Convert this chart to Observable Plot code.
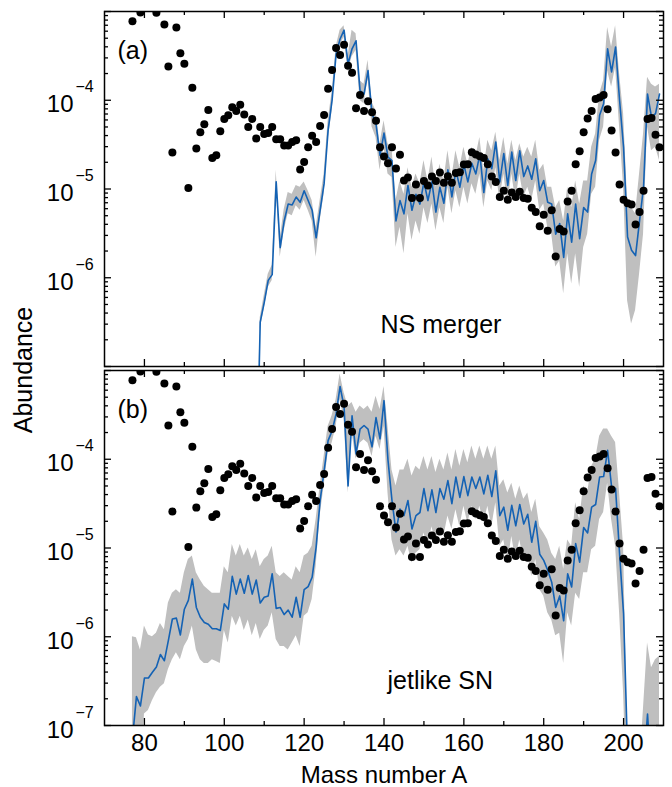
<!DOCTYPE html>
<html>
<head>
<meta charset="utf-8">
<script src="https://cdn.jsdelivr.net/npm/d3@7"></script>
<script src="https://cdn.jsdelivr.net/npm/@observablehq/plot@0.6"></script>
<style>
  html, body { margin: 0; padding: 0; background: #fff; }
  #wrap { position: relative; width: 672px; height: 787px; overflow: hidden; }
  #wrap svg { display: block; }
  #ylab { position: absolute; left: 23px; top: 370px; transform: translate(-50%, -50%) rotate(-90deg);
          font: 25px 'Liberation Sans', Arial, Helvetica, sans-serif; line-height: 1; white-space: nowrap; color: #000; }
</style>
</head>
<body>
<div id="wrap"><div id="ylab">Abundance</div></div>
<script>
// ---------- data (log10 abundance) ----------
// solar r-process abundances (black dots), same in both panels
const dotMass = [77,79,83,85,86,87,88,89,90,91,92,93,94,95,96,97,98,99,100,101,102,103,104,105,106,107,108,109,110,111,112,113,114,115,116,117,118,119,120,121,122,123,124,125,126,127,128,129,130,131,132,133,134,135,136,137,138,139,140,141,142,143,144,145,146,147,148,149,150,151,152,153,154,155,156,157,158,159,160,161,162,163,164,165,166,167,168,169,170,171,172,173,174,175,176,177,178,179,180,181,182,183,184,185,186,187,188,189,190,191,192,193,194,195,196,197,198,199,200,201,202,203,204,205,206,207,208,209];
const dotLog = [-3.11,-3.01,-3.015,-3.147,-3.62,-4.59,-3.18,-3.47,-3.59,-4.99,-3.86,-4.545,-4.36,-4.27,-4.11,-4.65,-4.62,-4.35,-4.21,-4.17,-4.08,-4.12,-4.05,-4.16,-4.30,-4.21,-4.43,-4.30,-4.38,-4.37,-4.30,-4.44,-4.44,-4.51,-4.51,-4.47,-4.45,-4.78,-4.695,-4.53,-4.40,-4.47,-4.29,-4.165,-3.87,-3.66,-3.41,-3.49,-3.375,-3.61,-3.69,-4.09,-3.94,-4.12,-4.01,-4.135,-4.23,-4.53,-4.635,-4.71,-4.53,-4.77,-4.615,-4.905,-4.87,-5.10,-4.95,-5.10,-4.91,-4.96,-4.86,-4.91,-4.815,-4.93,-4.855,-4.93,-4.82,-4.81,-4.725,-4.72,-4.585,-4.61,-4.63,-4.65,-4.72,-4.86,-4.92,-5.09,-5.02,-5.12,-5.04,-5.09,-5.03,-5.10,-5.11,-5.21,-5.26,-5.42,-5.29,-5.47,-5.24,-5.76,-5.45,-5.48,-5.14,-5.02,-4.72,-4.575,-4.36,-4.205,-4.12,-3.985,-3.97,-3.94,-4.10,-4.34,-4.59,-4.95,-5.12,-5.16,-5.175,-5.40,-5.26,-5.02,-4.21,-4.20,-4.39,-4.53];

// (a) NS merger: model line and range band
const nsMass = [108,109,110,111,112,113,114,115,116,117,118,119,120,121,122,123,124,125,126,127,128,129,130,131,132,133,134,135,136,137,138,139,140,141,142,143,144,145,146,147,148,149,150,151,152,153,154,155,156,157,158,159,160,161,162,163,164,165,166,167,168,169,170,171,172,173,174,175,176,177,178,179,180,181,182,183,184,185,186,187,188,189,190,191,192,193,194,195,196,197,198,199,200,201,202,203,204,205,206,207,208,209];
const nsLine = [-8.5,-6.50,-6.28,-6.03,-5.965,-4.92,-5.66,-5.36,-5.17,-5.18,-5.09,-5.15,-5.02,-5.13,-5.24,-5.55,-5.24,-4.94,-4.34,-4.00,-3.48,-3.31,-3.21,-3.59,-3.42,-3.33,-3.89,-3.93,-3.665,-4.15,-4.27,-4.62,-4.37,-4.64,-4.68,-5.36,-5.13,-5.28,-4.96,-5.24,-5.06,-5.17,-4.92,-5.13,-4.92,-5.26,-4.98,-5.16,-4.785,-5.09,-4.79,-4.98,-4.725,-4.92,-4.71,-4.83,-4.61,-5.04,-4.66,-4.77,-4.47,-4.92,-4.60,-4.96,-4.585,-4.905,-4.57,-4.86,-4.74,-4.89,-4.66,-5.02,-4.905,-5.15,-5.17,-5.51,-5.39,-5.77,-5.28,-5.60,-5.17,-5.56,-5.21,-5.26,-4.83,-4.68,-4.17,-4.04,-3.42,-3.68,-3.40,-4.00,-4.53,-5.54,-5.69,-5.75,-5.36,-4.98,-3.93,-4.19,-4.15,-3.93];
const nsHi = [-8.4,-6.45,-6.20,-5.96,-5.86,-4.79,-5.56,-5.23,-5.04,-5.06,-4.96,-4.98,-4.92,-5.02,-5.13,-5.43,-5.13,-4.83,-4.23,-3.91,-3.40,-3.21,-3.16,-3.50,-3.21,-3.25,-3.78,-3.82,-3.55,-4.02,-4.12,-4.49,-4.23,-4.49,-4.53,-5.13,-4.91,-5.06,-4.76,-4.98,-4.83,-4.94,-4.68,-4.91,-4.64,-4.98,-4.72,-4.91,-4.57,-4.87,-4.57,-4.76,-4.53,-4.72,-4.53,-4.64,-4.42,-4.79,-4.45,-4.57,-4.36,-4.68,-4.42,-4.72,-4.45,-4.68,-4.49,-4.64,-4.53,-4.64,-4.45,-4.79,-4.72,-4.98,-4.98,-5.21,-5.13,-5.36,-4.98,-5.21,-4.91,-5.17,-4.91,-4.91,-4.53,-4.38,-3.93,-3.78,-3.18,-3.40,-3.16,-3.70,-4.15,-5.13,-5.21,-5.28,-4.83,-4.38,-3.74,-3.82,-3.85,-3.82];
const nsLo = [-8.6,-6.58,-6.35,-6.11,-6.03,-4.98,-5.77,-5.47,-5.28,-5.30,-5.19,-5.24,-5.13,-5.24,-5.36,-5.77,-5.36,-5.06,-4.45,-4.12,-3.57,-3.38,-3.29,-3.68,-3.51,-3.44,-4.00,-4.04,-3.76,-4.30,-4.42,-4.79,-4.53,-4.83,-4.87,-5.66,-5.43,-5.73,-5.28,-5.58,-5.36,-5.51,-5.21,-5.39,-5.17,-5.47,-5.21,-5.39,-4.98,-5.28,-5.02,-5.21,-4.98,-5.17,-4.94,-5.06,-4.83,-5.21,-4.91,-5.02,-4.76,-5.13,-4.83,-5.17,-4.83,-5.13,-4.83,-5.09,-4.98,-5.13,-4.91,-5.24,-5.17,-5.43,-5.51,-5.88,-5.81,-6.18,-5.73,-6.07,-5.73,-6.11,-5.66,-5.51,-5.06,-4.98,-4.45,-4.30,-3.67,-3.85,-3.63,-4.30,-4.98,-6.26,-6.52,-6.37,-5.96,-5.51,-4.30,-4.57,-4.53,-4.68];

// (b) jetlike SN: model line and range band
const snMass = [77,78,79,80,81,82,83,84,85,86,87,88,89,90,91,92,93,94,95,96,97,98,99,100,101,102,103,104,105,106,107,108,109,110,111,112,113,114,115,116,117,118,119,120,121,122,123,124,125,126,127,128,129,130,131,132,133,134,135,136,137,138,139,140,141,142,143,144,145,146,147,148,149,150,151,152,153,154,155,156,157,158,159,160,161,162,163,164,165,166,167,168,169,170,171,172,173,174,175,176,177,178,179,180,181,182,183,184,185,186,187,188,189,190,191,192,193,194,195,196,197,198,199,200,201,202,203,204,205,206,207,208,209];
const snLine = [-7.15,-6.675,-6.78,-6.465,-6.465,-6.40,-6.34,-6.20,-6.27,-6.04,-5.80,-5.79,-5.98,-5.69,-5.59,-5.35,-5.67,-5.78,-5.84,-5.86,-5.91,-5.91,-5.93,-5.63,-5.69,-5.32,-5.52,-5.35,-5.51,-5.31,-5.52,-5.36,-5.62,-5.555,-5.54,-5.29,-5.68,-5.67,-5.75,-5.70,-5.78,-5.555,-5.78,-5.47,-5.435,-5.33,-4.99,-4.465,-4.13,-3.79,-3.68,-3.49,-3.18,-3.41,-4.30,-3.51,-3.94,-3.66,-3.62,-3.66,-3.86,-3.53,-3.77,-3.34,-4.01,-4.465,-4.82,-4.56,-4.635,-4.465,-4.785,-4.635,-4.60,-4.33,-4.58,-4.345,-4.60,-4.33,-4.45,-4.24,-4.50,-4.20,-4.43,-4.195,-4.41,-4.20,-4.33,-4.20,-4.39,-4.18,-4.42,-4.13,-4.635,-4.54,-4.80,-4.52,-4.75,-4.51,-4.73,-4.62,-4.935,-4.70,-5.07,-5.14,-5.25,-5.385,-5.67,-5.54,-5.82,-5.29,-5.44,-4.95,-5.16,-4.77,-4.83,-4.54,-4.51,-4.20,-4.195,-3.90,-4.31,-4.33,-5.07,-5.74,-7.3,-8,-8,-8,-7.5,-6.87,-7.6,-8,-8];
const snHi = [-6.0,-6.01,-6.15,-5.88,-5.98,-6.0,-5.96,-5.85,-5.92,-5.62,-5.51,-5.47,-5.51,-5.28,-5.13,-5.09,-5.28,-5.36,-5.43,-5.47,-5.51,-5.51,-5.51,-5.21,-5.28,-4.96,-5.09,-4.96,-5.09,-5.00,-5.13,-5.02,-5.21,-5.13,-5.09,-4.98,-5.28,-5.32,-5.28,-5.32,-5.36,-5.21,-5.28,-5.09,-5.06,-4.98,-4.68,-4.30,-3.97,-3.63,-3.51,-3.33,-3.04,-3.25,-3.40,-3.36,-3.47,-3.40,-3.44,-3.40,-3.47,-3.29,-3.44,-3.18,-3.63,-4.12,-4.30,-4.12,-4.12,-4.00,-4.19,-4.08,-4.12,-3.97,-4.12,-3.97,-4.15,-4.00,-4.12,-3.93,-4.12,-3.89,-4.08,-3.89,-4.04,-3.85,-4.00,-3.85,-4.00,-3.85,-4.00,-3.85,-4.30,-4.23,-4.38,-4.27,-4.45,-4.30,-4.45,-4.38,-4.60,-4.45,-4.76,-4.83,-4.91,-5.06,-5.13,-4.98,-5.24,-4.91,-4.98,-4.49,-4.68,-4.30,-4.38,-4.08,-4.00,-3.74,-3.66,-3.66,-3.74,-3.81,-4.38,-4.98,-7.2,-7.5,-7.5,-7.5,-6.8,-6.07,-6.35,-6.26,-6.22];
const snLo = [-8,-8,-8,-6.87,-6.83,-6.72,-6.63,-6.57,-6.53,-6.37,-6.26,-6.18,-6.26,-6.11,-6.03,-5.88,-6.15,-6.26,-6.30,-6.30,-6.26,-6.28,-6.30,-5.93,-6.07,-5.77,-5.88,-5.77,-5.93,-5.81,-5.99,-5.85,-6.03,-5.93,-5.88,-5.73,-6.03,-6.11,-6.11,-6.15,-6.07,-5.99,-6.11,-5.77,-5.73,-5.58,-5.21,-4.64,-4.30,-3.93,-3.82,-3.63,-3.33,-3.55,-4.38,-3.70,-4.00,-3.82,-3.78,-3.82,-3.97,-3.74,-3.89,-3.63,-4.38,-4.91,-5.09,-5.02,-5.09,-4.98,-5.17,-5.06,-5.02,-4.83,-4.98,-4.76,-4.94,-4.76,-4.87,-4.64,-4.79,-4.57,-4.76,-4.53,-4.72,-4.53,-4.68,-4.53,-4.72,-4.53,-4.76,-4.49,-4.98,-4.91,-5.17,-4.87,-5.13,-4.91,-5.13,-5.06,-5.32,-5.13,-5.47,-5.54,-5.73,-5.81,-5.99,-5.96,-6.30,-5.73,-5.88,-5.51,-5.58,-5.28,-5.28,-5.02,-4.98,-4.68,-4.60,-4.27,-4.68,-4.98,-5.73,-6.63,-8,-8,-8,-8,-8,-8,-8,-8,-8];

// ticks and labels
const xMajor = [80,100,120,140,160,180,200];
const xMinor = [90,110,130,150,170,190];
const yMajorExp = [-7,-6,-5,-4,-3];
const yMinorMult = [2,3,4,5,6,7,8,9];
const labelExpA = [-6,-5,-4];
const labelExpB = [-7,-6,-5,-4];

// ---------- drawing ----------
const FONT = "'Liberation Sans', Arial, Helvetica, sans-serif";
const FRAME_W = 559, FRAME_H = 355;   // inner plot area of each panel, px
const dots = dotMass.map((A, i) => ({A, v: 10 ** dotLog[i]}));
const yMajor = yMajorExp.map(e => 10 ** e);
const yMinor = yMajorExp.slice(0, -1).flatMap(e => yMinorMult.map(m => m * 10 ** e));

function rows(mass, line, hi, lo) {
  return mass.map((A, i) => ({A, v: 10 ** line[i], hi: 10 ** hi[i], lo: 10 ** lo[i]}));
}

// inward ticks on all four sides
function tickMarks() {
  const s = {stroke: "black", strokeWidth: 1.3};
  const big = 7, small = 4;
  return [
    Plot.tickX(xMajor, {x: d => d, insetTop: FRAME_H - big, ...s}),
    Plot.tickX(xMinor, {x: d => d, insetTop: FRAME_H - small, ...s}),
    Plot.tickX(xMajor, {x: d => d, insetBottom: FRAME_H - big, ...s}),
    Plot.tickX(xMinor, {x: d => d, insetBottom: FRAME_H - small, ...s}),
    Plot.tickY(yMajor, {y: d => d, insetRight: FRAME_W - big, ...s}),
    Plot.tickY(yMinor, {y: d => d, insetRight: FRAME_W - small, ...s}),
    Plot.tickY(yMajor, {y: d => d, insetLeft: FRAME_W - big, ...s}),
    Plot.tickY(yMinor, {y: d => d, insetLeft: FRAME_W - small, ...s})
  ];
}

function panel(o) {
  const data = rows(o.mass, o.line, o.hi, o.lo);
  const marks = [
    Plot.areaY(data, {x: "A", y1: "lo", y2: "hi", fill: "#bfbfbf", clip: true}),
    Plot.lineY(data, {x: "A", y: "v", stroke: "#1462b4", strokeWidth: 1.6, clip: true}),
    Plot.dot(dots, {x: "A", y: "v", r: 4, fill: "black", stroke: "none", clip: true}),
    ...tickMarks(),
    Plot.text(o.labelExps, {y: e => 10 ** e, text: () => "10", frameAnchor: "left", textAnchor: "end",
      lineAnchor: "bottom", dx: -31, dy: 12, fontSize: 24}),
    Plot.text(o.labelExps, {y: e => 10 ** e, text: e => "\u2212" + (-e), frameAnchor: "left", textAnchor: "start",
      lineAnchor: "bottom", dx: -29, dy: -8, fontSize: 16}),
    Plot.text([o.tag], {text: d => d, frameAnchor: "top-left", textAnchor: "start", lineAnchor: "bottom",
      dx: 13, dy: 47, fontSize: 25}),
    Plot.text([o.name], {text: d => d, frameAnchor: "top-left", textAnchor: "start", lineAnchor: "bottom",
      dx: o.nameDx, dy: o.nameDy, fontSize: 25}),
    Plot.frame({stroke: "black", strokeWidth: 1.5})
  ];
  if (o.xLabels) {
    marks.push(
      Plot.text(xMajor, {x: d => d, text: d => String(d), frameAnchor: "bottom", lineAnchor: "bottom", dy: 25, fontSize: 24}),
      Plot.text(["Mass number A"], {text: d => d, frameAnchor: "bottom", lineAnchor: "bottom", dy: 57, fontSize: 24})
    );
  }
  return Plot.plot({
    width: 672, height: o.height,
    marginLeft: 104, marginRight: 9, marginTop: o.mt, marginBottom: o.mb,
    style: {fontFamily: FONT, color: "black", background: "white"},
    x: {domain: [70, 210], axis: null},
    y: {type: "log", domain: [1e-7, 1e-3], axis: null},
    marks
  });
}

const wrap = document.getElementById("wrap");
wrap.insertBefore(panel({mass: nsMass, line: nsLine, hi: nsHi, lo: nsLo, labelExps: labelExpA,
  tag: "(a)", name: "NS merger", nameDx: 276, nameDy: 321, height: 368, mt: 11, mb: 2, xLabels: false}), wrap.firstChild);
wrap.insertBefore(panel({mass: snMass, line: snLine, hi: snHi, lo: snLo, labelExps: labelExpB,
  tag: "(b)", name: "jetlike SN", nameDx: 283, nameDy: 318, height: 419, mt: 2, mb: 62, xLabels: true}), document.getElementById("ylab"));
</script>
</body>
</html>
